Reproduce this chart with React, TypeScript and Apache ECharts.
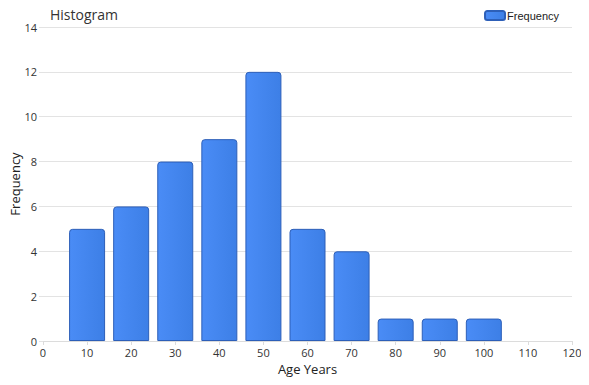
import React, { useEffect, useRef } from "react";
import * as echarts from "echarts";

const binCenters = [10, 20, 30, 40, 50, 60, 70, 80, 90, 100];
const frequencies = [5, 6, 8, 9, 12, 5, 4, 1, 1, 1];
const xTicks = { min: 0, max: 120, interval: 10 };
const yTicks = { min: 0, max: 14, interval: 2 };

export default function App() {
  const ref = useRef<HTMLDivElement>(null);
  useEffect(() => {
    if (!ref.current) return;
    const chart = echarts.init(ref.current, null, { renderer: "svg" });
    const font = "'Open Sans', 'Noto Sans', sans-serif";
    chart.setOption({
      animation: false,
      textStyle: { fontFamily: font },
      title: {
        text: "Histogram",
        left: 45,
        top: 2,
        textStyle: { fontSize: 14, fontWeight: "normal", color: "#333", fontFamily: font },
      },
      legend: {
        right: 25,
        top: 5,
        itemWidth: 20,
        itemHeight: 9,
        itemGap: 4,
        textStyle: { fontSize: 11, color: "#222", fontFamily: "'Liberation Sans', Arial, sans-serif", padding: [0, 0, 0, -3] },
        data: [{ name: "Frequency", icon: "roundRect" }],
      },
      grid: { left: 43, right: 17, top: 27, bottom: 44, containLabel: false, outerBoundsMode: "none" },
      xAxis: {
        type: "value",
        min: xTicks.min,
        max: xTicks.max,
        interval: xTicks.interval,
        name: "Age Years",
        nameLocation: "middle",
        nameGap: 21,
        nameMoveOverlap: false,
        nameTextStyle: { fontSize: 13, color: "#222", fontFamily: font },
        axisLine: { show: true, lineStyle: { color: "#dcdcdc" } },
        axisTick: { show: true, length: 4, lineStyle: { color: "#dcdcdc" } },
        axisLabel: { fontSize: 11, color: "#333", margin: 6, fontFamily: font },
        splitLine: { show: false },
      },
      yAxis: {
        type: "value",
        min: yTicks.min,
        max: yTicks.max,
        interval: yTicks.interval,
        name: "Frequency",
        nameLocation: "middle",
        nameGap: 22,
        nameMoveOverlap: false,
        nameTextStyle: { fontSize: 13, color: "#222", fontFamily: font },
        axisLine: { show: false },
        axisTick: { show: true, length: 4, lineStyle: { color: "#e3e3e3" } },
        axisLabel: { fontSize: 11, color: "#333", margin: 6, fontFamily: font },
        splitLine: { show: true, lineStyle: { color: "#e3e3e3" } },
      },
      series: [
        {
          name: "Frequency",
          type: "bar",
          barWidth: 36,
          data: binCenters.map((c, i) => [c, frequencies[i]]),
          itemStyle: {
            color: new echarts.graphic.LinearGradient(0, 0, 1, 0, [
              { offset: 0, color: "#4a8cf6" },
              { offset: 1, color: "#3d7fe6" },
            ]),
            borderColor: "#2d5fb8",
            borderWidth: 1,
            borderRadius: [3, 3, 0, 0],
          },
        },
      ],
    });
    return () => chart.dispose();
  }, []);
  return <div ref={ref} style={{ width: 589, height: 385, margin: -8 }} />;
}
